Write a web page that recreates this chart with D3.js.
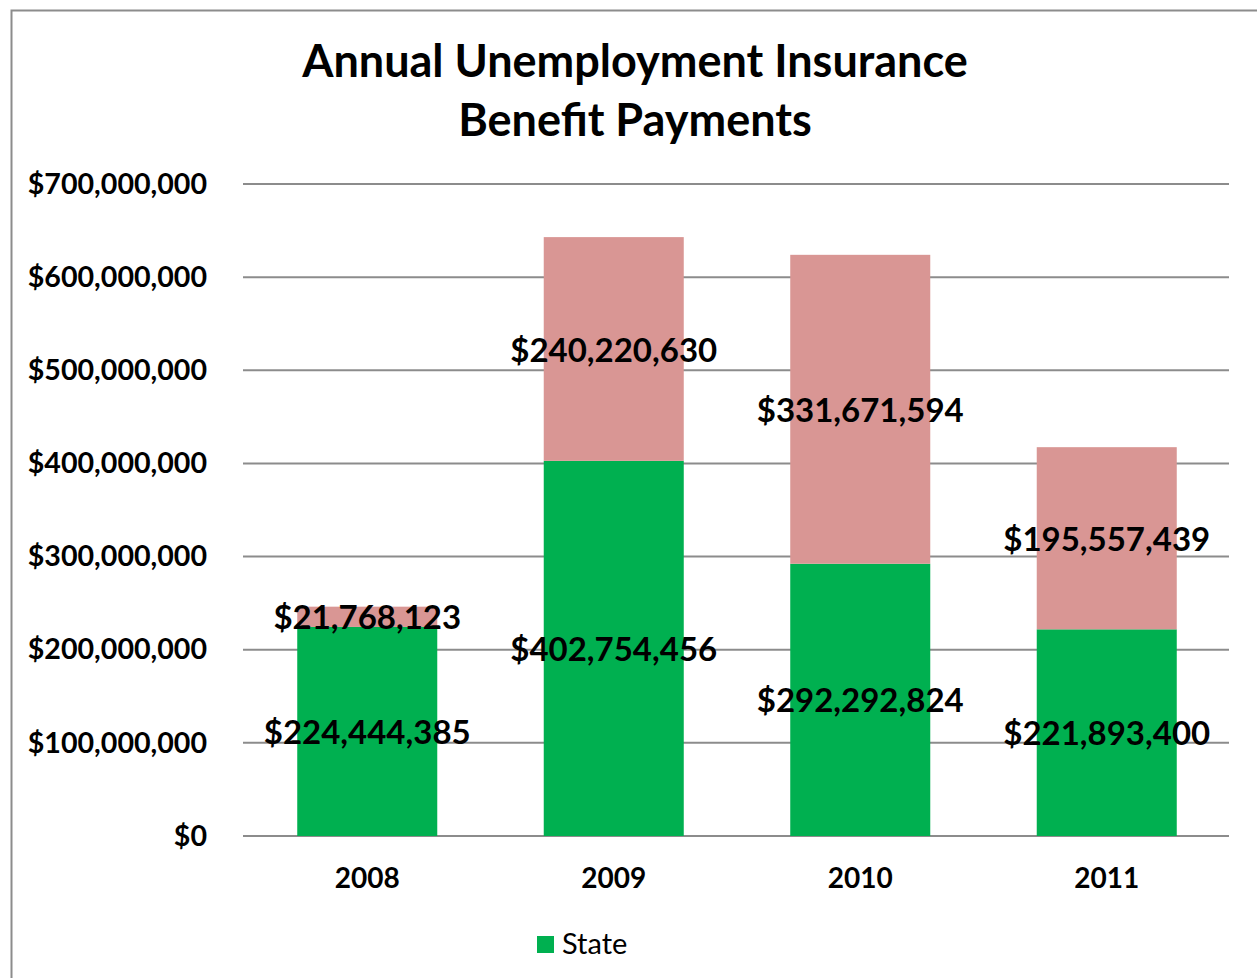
<!DOCTYPE html>
<html>
<head>
<meta charset="utf-8">
<script src="https://cdn.jsdelivr.net/npm/d3@7"></script>
<style>
  html, body { margin: 0; padding: 0; background: #fff; }
  svg { display: block; }
</style>
</head>
<body>
<svg id="chart" width="1257" height="978"></svg>
<script>
// Annual UI benefit payments, split into State and Federal funded portions
const years = ["2008", "2009", "2010", "2011"];
const stateValues = [224444385, 402754456, 292292824, 221893400];
const federalValues = [21768123, 240220630, 331671594, 195557439];
const yTicks = [0, 100000000, 200000000, 300000000, 400000000, 500000000, 600000000, 700000000];
const titleLines = ["Annual Unemployment Insurance", "Benefit Payments"];
const legendLabel = "State";

const colors = { state: "#00B050", federal: "#D99694", grid: "#8C8C8C", text: "#000" };
const font = "Lato, 'Open Sans', sans-serif";

const svg = d3.select("#chart");
const W = 1257, H = 978;

// outer chart-area frame
svg.append("rect")
  .attr("x", 11.5).attr("y", 10.5)
  .attr("width", W + 20).attr("height", H + 20)
  .attr("fill", "#fff").attr("stroke", "#8C8C8C").attr("stroke-width", 2);

const plot = { left: 244, right: 1230, top: 184, bottom: 836 };

const x = d3.scaleBand().domain(years).range([plot.left, plot.right]).paddingInner(0.432).paddingOuter(0.216);
const y = d3.scaleLinear().domain([0, 700000000]).range([plot.bottom, plot.top]);

// gridlines
svg.append("g").selectAll("line").data(yTicks).join("line")
  .attr("x1", plot.left - 1).attr("x2", plot.right - 1)
  .attr("y1", d => y(d)).attr("y2", d => y(d))
  .attr("stroke", colors.grid).attr("stroke-width", 2);

// y axis labels
const fmt = d => "$" + d3.format(",")(d);
const yAxis = d3.axisLeft(y).tickValues(yTicks).tickFormat(fmt).tickSize(0).tickPadding(37);
const yg = svg.append("g").attr("transform", `translate(${plot.left},0)`).call(yAxis);
yg.select(".domain").remove();
yg.selectAll("text").attr("font-family", font).attr("font-weight", "bold")
  .attr("font-size", 28.6).attr("fill", colors.text);

// x axis labels
const xAxis = d3.axisBottom(x).tickSize(0).tickPadding(32);
const xg = svg.append("g").attr("transform", `translate(0,${plot.bottom})`).call(xAxis);
xg.select(".domain").remove();
xg.selectAll("text").attr("font-family", font).attr("font-weight", "bold")
  .attr("font-size", 28).attr("fill", colors.text);

// stacked bars
const rows = years.map((yr, i) => ({ year: yr, state: stateValues[i], federal: federalValues[i] }));
const stack = d3.stack().keys(["state", "federal"])(rows);

const layers = svg.append("g").selectAll("g").data(stack).join("g")
  .attr("fill", d => colors[d.key]);
layers.selectAll("rect").data(d => d).join("rect")
  .attr("x", d => x(d.data.year))
  .attr("width", x.bandwidth())
  .attr("y", d => y(d[1]))
  .attr("height", d => y(d[0]) - y(d[1]));

// value labels centred in each segment
const labels = svg.append("g");
stack.forEach(layer => {
  labels.selectAll(null).data(layer).join("text")
    .attr("x", d => x(d.data.year) + x.bandwidth() / 2)
    .attr("y", d => y((d[0] + d[1]) / 2))
    .attr("dy", "0.38em")
    .attr("text-anchor", "middle")
    .attr("font-family", font).attr("font-weight", "bold")
    .attr("font-size", 33).attr("fill", colors.text)
    .text(d => fmt(d.data[layer.key]));
});

// title
svg.append("text")
  .attr("x", 635).attr("y", 77)
  .attr("text-anchor", "middle")
  .attr("font-family", font).attr("font-weight", "bold")
  .attr("font-size", 45).attr("fill", colors.text)
  .selectAll("tspan").data(titleLines).join("tspan")
  .attr("x", 635).attr("dy", (d, i) => i === 0 ? 0 : 59)
  .text(d => d);

// legend
const lg = svg.append("g").attr("transform", "translate(537,936)");
lg.append("rect").attr("width", 17).attr("height", 17).attr("fill", colors.state);
lg.append("text").attr("x", 25).attr("y", 18)
  .attr("font-family", font).attr("font-size", 29).attr("fill", colors.text)
  .text(legendLabel);
</script>
</body>
</html>
